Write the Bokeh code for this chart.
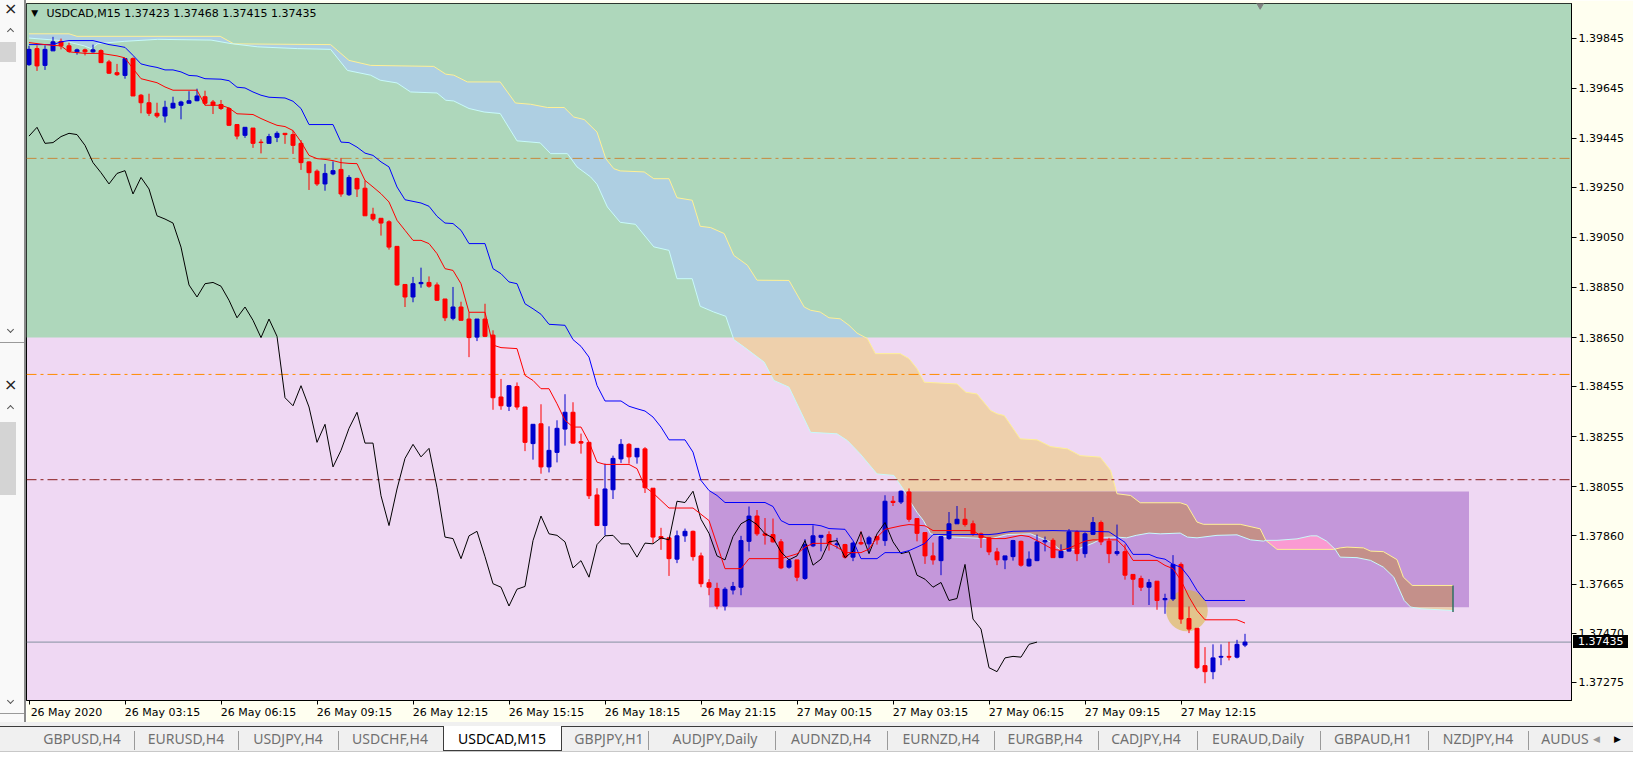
from bokeh.plotting import figure
from bokeh.models import Range1d, FixedTicker, PrintfTickFormatter, Label, Div, ColumnDataSource, LinearAxis
from bokeh.layouts import row, column
from bokeh.embed import file_html
from bokeh.resources import INLINE

# ---------------- data ----------------
symbol = "USDCAD,M15"
bars = list(range(-12, 141))  # bar index, 0 = 26 May 03:15

opens = [1.39739, 1.39803, 1.39736, 1.39794, 1.39832, 1.39814, 1.39790, 1.39798, 1.39790, 1.39795,
         1.39750, 1.39707, 1.39696, 1.39763, 1.39617, 1.39587, 1.39545, 1.39534, 1.39566, 1.39577,
         1.39585, 1.39595, 1.39611, 1.39590, 1.39580, 1.39564, 1.39500, 1.39457, 1.39486, 1.39430,
         1.39425, 1.39449, 1.39465, 1.39460, 1.39425, 1.39351, 1.39314, 1.39263, 1.39303, 1.39321,
         1.39220, 1.39285, 1.39246, 1.39142, 1.39126, 1.39112, 1.39014, 1.38862, 1.38812, 1.38865,
         1.38870, 1.38860, 1.38804, 1.38727, 1.38772, 1.38724, 1.38652, 1.38724, 1.38660, 1.38413,
         1.38376, 1.38455, 1.38373, 1.38227, 1.38306, 1.38134, 1.38192, 1.38285, 1.38352, 1.38235,
         1.38232, 1.38022, 1.37900, 1.38043, 1.38166, 1.38224, 1.38174, 1.38206, 1.38049, 1.37856,
         1.37851, 1.37766, 1.37859, 1.37877, 1.37779, 1.37672, 1.37649, 1.37579, 1.37643, 1.37654,
         1.37837, 1.37938, 1.37867, 1.37864, 1.37835, 1.37734, 1.37763, 1.37689, 1.37819, 1.37853,
         1.37864, 1.37824, 1.37824, 1.37774, 1.37832, 1.37827, 1.37856, 1.37840, 1.37997, 1.37994,
         1.38034, 1.37928, 1.37872, 1.37779, 1.37760, 1.37848, 1.37907, 1.37925, 1.37907, 1.37867,
         1.37851, 1.37795, 1.37763, 1.37776, 1.37837, 1.37739, 1.37760, 1.37835, 1.37841, 1.37772,
         1.37798, 1.37875, 1.37788, 1.37865, 1.37912, 1.37838, 1.37788, 1.37796, 1.37705, 1.37689,
         1.37654, 1.37678, 1.37604, 1.37607, 1.37745, 1.37529, 1.37490, 1.37341, 1.37317, 1.37375,
         1.37378, 1.37375, 1.37423]
highs = [1.39814, 1.39816, 1.39816, 1.39850, 1.39843, 1.39827, 1.39803, 1.39803, 1.39819, 1.39800,
         1.39758, 1.39742, 1.39763, 1.39768, 1.39622, 1.39623, 1.39587, 1.39595, 1.39611, 1.39595,
         1.39633, 1.39643, 1.39635, 1.39598, 1.39598, 1.39569, 1.39502, 1.39489, 1.39486, 1.39441,
         1.39463, 1.39473, 1.39465, 1.39476, 1.39438, 1.39353, 1.39321, 1.39343, 1.39353, 1.39367,
         1.39298, 1.39288, 1.39277, 1.39168, 1.39126, 1.39118, 1.39014, 1.38862, 1.38892, 1.38929,
         1.38894, 1.38870, 1.38804, 1.38852, 1.38793, 1.38751, 1.38724, 1.38785, 1.38679, 1.38485,
         1.38461, 1.38471, 1.38373, 1.38304, 1.38384, 1.38296, 1.38320, 1.38424, 1.38392, 1.38267,
         1.38232, 1.38049, 1.38147, 1.38179, 1.38245, 1.38229, 1.38208, 1.38213, 1.38049, 1.37891,
         1.37851, 1.37880, 1.37888, 1.37880, 1.37792, 1.37686, 1.37672, 1.37654, 1.37675, 1.37859,
         1.37976, 1.37962, 1.37930, 1.37928, 1.37846, 1.37768, 1.37763, 1.37846, 1.37901, 1.37861,
         1.37877, 1.37851, 1.37827, 1.37835, 1.37877, 1.37859, 1.37856, 1.38021, 1.38018, 1.38040,
         1.38048, 1.37928, 1.37872, 1.37832, 1.37859, 1.37954, 1.37978, 1.37970, 1.37920, 1.37872,
         1.37853, 1.37811, 1.37779, 1.37843, 1.37840, 1.37797, 1.37864, 1.37856, 1.37849, 1.37825,
         1.37886, 1.37881, 1.37873, 1.37934, 1.37920, 1.37851, 1.37904, 1.37825, 1.37705, 1.37700,
         1.37686, 1.37678, 1.37628, 1.37782, 1.37753, 1.37577, 1.37490, 1.37415, 1.37426, 1.37426,
         1.37436, 1.37444, 1.37468]
lows = [1.39734, 1.39714, 1.39718, 1.39794, 1.39800, 1.39787, 1.39779, 1.39776, 1.39787, 1.39747,
        1.39702, 1.39694, 1.39683, 1.39614, 1.39545, 1.39534, 1.39526, 1.39508, 1.39564, 1.39521,
        1.39585, 1.39593, 1.39577, 1.39542, 1.39558, 1.39494, 1.39441, 1.39447, 1.39407, 1.39385,
        1.39425, 1.39430, 1.39423, 1.39383, 1.39319, 1.39239, 1.39255, 1.39236, 1.39298, 1.39212,
        1.39215, 1.39211, 1.39136, 1.39115, 1.39057, 1.39001, 1.38857, 1.38772, 1.38791, 1.38849,
        1.38849, 1.38796, 1.38716, 1.38719, 1.38719, 1.38572, 1.38636, 1.38652, 1.38362, 1.38362,
        1.38357, 1.38362, 1.38197, 1.38163, 1.38107, 1.38112, 1.38152, 1.38219, 1.38227, 1.38187,
        1.38006, 1.37900, 1.37860, 1.38006, 1.38150, 1.38147, 1.38147, 1.38030, 1.37830, 1.37803,
        1.37699, 1.37750, 1.37835, 1.37760, 1.37654, 1.37622, 1.37566, 1.37561, 1.37625, 1.37622,
        1.37797, 1.37859, 1.37824, 1.37832, 1.37726, 1.37728, 1.37678, 1.37683, 1.37814, 1.37797,
        1.37800, 1.37808, 1.37768, 1.37758, 1.37822, 1.37790, 1.37824, 1.37819, 1.37978, 1.37986,
        1.37915, 1.37837, 1.37747, 1.37744, 1.37702, 1.37843, 1.37907, 1.37896, 1.37859, 1.37811,
        1.37782, 1.37742, 1.37726, 1.37760, 1.37736, 1.37736, 1.37758, 1.37797, 1.37772, 1.37772,
        1.37796, 1.37758, 1.37772, 1.37862, 1.37822, 1.37750, 1.37780, 1.37684, 1.37583, 1.37639,
        1.37583, 1.37564, 1.37548, 1.37599, 1.37508, 1.37471, 1.37327, 1.37271, 1.37287, 1.37343,
        1.37362, 1.37370, 1.37415]
closes = [1.39800, 1.39734, 1.39800, 1.39830, 1.39814, 1.39792, 1.39798, 1.39790, 1.39798, 1.39747,
          1.39705, 1.39699, 1.39763, 1.39614, 1.39587, 1.39545, 1.39534, 1.39569, 1.39585, 1.39590,
          1.39595, 1.39614, 1.39585, 1.39577, 1.39564, 1.39497, 1.39454, 1.39489, 1.39425, 1.39428,
          1.39452, 1.39465, 1.39460, 1.39417, 1.39348, 1.39308, 1.39263, 1.39305, 1.39316, 1.39223,
          1.39289, 1.39243, 1.39136, 1.39123, 1.39107, 1.39011, 1.38860, 1.38812, 1.38865, 1.38870,
          1.38855, 1.38799, 1.38729, 1.38772, 1.38719, 1.38650, 1.38724, 1.38655, 1.38410, 1.38378,
          1.38458, 1.38373, 1.38232, 1.38304, 1.38134, 1.38200, 1.38288, 1.38352, 1.38229, 1.38229,
          1.38019, 1.37900, 1.38046, 1.38168, 1.38224, 1.38174, 1.38208, 1.38051, 1.37854, 1.37848,
          1.37768, 1.37859, 1.37877, 1.37776, 1.37668, 1.37654, 1.37579, 1.37646, 1.37657, 1.37840,
          1.37938, 1.37867, 1.37861, 1.37835, 1.37731, 1.37760, 1.37694, 1.37824, 1.37859, 1.37861,
          1.37827, 1.37827, 1.37774, 1.37830, 1.37827, 1.37851, 1.37843, 1.37997, 1.37992, 1.38037,
          1.37925, 1.37869, 1.37779, 1.37763, 1.37856, 1.37907, 1.37925, 1.37904, 1.37867, 1.37851,
          1.37795, 1.37763, 1.37779, 1.37840, 1.37742, 1.37766, 1.37835, 1.37840, 1.37772, 1.37798,
          1.37875, 1.37788, 1.37867, 1.37912, 1.37835, 1.37788, 1.37796, 1.37702, 1.37686, 1.37654,
          1.37673, 1.37601, 1.37609, 1.37745, 1.37527, 1.37487, 1.37333, 1.37317, 1.37372, 1.37378,
          1.37375, 1.37426, 1.37435]

# Ichimoku lines (bar index, price)
tenkan_x = [-12, -10, -9, -8, -7, -6, -5, -3, -2, -1, 0, 1, 2, 3, 4, 5, 6, 9, 10, 12,
            13, 14, 16, 17, 18, 19, 20, 21, 22, 23, 24, 25, 26, 27, 28, 29, 30, 31, 32, 33,
            34, 35, 36, 37, 38, 39, 40, 41, 42, 43, 45, 46, 47, 49, 50, 51, 52, 53, 54, 55,
            56, 57, 58, 59, 60, 63, 64, 65,
            66, 68, 71, 73, 75, 77, 78, 82, 84, 85, 86, 88, 89, 90, 92, 93, 94, 95, 97, 98,
            100, 101, 106, 107, 108, 110, 112, 113, 114, 116, 117, 118, 120, 121, 124, 125, 126, 129, 130, 131,
            132, 133, 134, 135, 139, 140]
tenkan_y = [1.39827, 1.39819, 1.39816, 1.39814, 1.39790, 1.39787, 1.39784, 1.39784, 1.39779, 1.39774,
            1.39766, 1.39723, 1.39683, 1.39675, 1.39667, 1.39650, 1.39637, 1.39637, 1.39577, 1.39577,
            1.39566, 1.39543, 1.39540, 1.39524, 1.39510, 1.39497, 1.39492, 1.39476, 1.39431, 1.39377,
            1.39364, 1.39361, 1.39356, 1.39348, 1.39345, 1.39344, 1.39277, 1.39251, 1.39224, 1.39191,
            1.39118, 1.39078, 1.39038, 1.39038, 1.39025, 1.38985, 1.38925, 1.38918, 1.38865, 1.38751,
            1.38751, 1.38620, 1.38610, 1.38606, 1.38499, 1.38479, 1.38446, 1.38446, 1.38386, 1.38320,
            1.38293, 1.38293, 1.38233, 1.38153, 1.38144, 1.38144, 1.38127, 1.38054,
            1.38030, 1.37970, 1.37970, 1.37920, 1.37728, 1.37728, 1.37768, 1.37768, 1.37787, 1.37814,
            1.37829, 1.37829, 1.37814, 1.37792, 1.37792, 1.37806, 1.37853, 1.37885, 1.37899, 1.37904,
            1.37899, 1.37880, 1.37880, 1.37859, 1.37848, 1.37848, 1.37861, 1.37856, 1.37840, 1.37805,
            1.37801, 1.37810, 1.37838, 1.37843, 1.37843, 1.37811, 1.37761, 1.37761, 1.37741, 1.37728,
            1.37681, 1.37615, 1.37561, 1.37524, 1.37524, 1.37511]

kijun_x = [-12, -9, -8, -7, -4, -3, -2, -1, 0, 1, 2, 3, 4, 5, 6, 7, 8, 9, 10, 12,
           13, 14, 15, 16, 17, 18, 20, 21, 22, 23, 26, 27, 28, 29, 30, 31, 32, 33, 34, 35,
           37, 38, 39, 40, 41, 42, 43, 45, 46, 47, 48, 49, 50, 51, 52, 53, 55, 56, 57, 58,
           59, 60, 62, 63, 64, 65, 66, 67, 68, 70, 71, 72, 73, 74, 75, 80, 81, 82, 83, 86,
           87, 88, 90, 91, 92, 94, 95, 97, 98, 99, 100, 101, 108, 109, 110, 111, 116, 123, 124, 125,
           126, 128, 129, 130, 131, 132, 133, 134, 135, 140]
kijun_y = [1.39819, 1.39819, 1.39830, 1.39835, 1.39835, 1.39827, 1.39819, 1.39814, 1.39808, 1.39776,
           1.39742, 1.39734, 1.39728, 1.39718, 1.39718, 1.39710, 1.39696, 1.39694, 1.39683, 1.39681,
           1.39675, 1.39649, 1.39646, 1.39630, 1.39617, 1.39609, 1.39606, 1.39593, 1.39564, 1.39500,
           1.39500, 1.39430, 1.39428, 1.39410, 1.39386, 1.39377, 1.39351, 1.39331, 1.39251, 1.39200,
           1.39187, 1.39174, 1.39134, 1.39107, 1.39105, 1.39078, 1.39025, 1.39025, 1.38925, 1.38905,
           1.38872, 1.38865, 1.38785, 1.38765, 1.38743, 1.38703, 1.38699, 1.38642, 1.38615, 1.38572,
           1.38459, 1.38397, 1.38397, 1.38376, 1.38366, 1.38357, 1.38333, 1.38293, 1.38242, 1.38242,
           1.38193, 1.38080, 1.38040, 1.38020, 1.37992, 1.37992, 1.37976, 1.37920, 1.37904, 1.37904,
           1.37899, 1.37888, 1.37885, 1.37840, 1.37768, 1.37768, 1.37792, 1.37792, 1.37800, 1.37814,
           1.37829, 1.37864, 1.37864, 1.37867, 1.37873, 1.37877, 1.37880, 1.37875, 1.37854, 1.37833,
           1.37785, 1.37785, 1.37772, 1.37766, 1.37745, 1.37734, 1.37694, 1.37641, 1.37601, 1.37601]

span_a_x = [-12, -7, -6, 11.9, 13.6, 25.7, 28.0, 30.7, 38.6, 40.1,
            41.1, 42.8, 46.9, 48.8, 50.7, 52.8, 54.9, 56.1, 57.4, 59.0,
            60.1, 61.1, 61.9, 64.9, 66.1, 68.0, 69.0, 70.9, 71.9, 73.2,
            74.9, 76.1, 77.8, 79.0, 83.0, 84.9, 85.7, 86.9, 88.0, 89.4,
            90.5, 91.5, 92.8, 93.8, 96.9, 98.0, 99.0, 99.9, 104.0, 105.1,
            106.5, 108.2, 109.0, 109.9, 111.9, 114.0, 115.7, 117.8, 119.4, 121.9,
            123.2, 124.0, 125.7, 126.9, 131.9, 132.75, 134.0, 134.8, 139.4, 141.9,
            142.6, 144.0, 151.1, 151.25, 151.9, 152.75, 154.8, 155.7, 157.3, 159.0,
            159.8, 160.9, 166.0]
span_a_y = [1.39862, 1.39862, 1.39852, 1.39852, 1.39822, 1.39819, 1.39756, 1.39736, 1.39732, 1.39701,
            1.39697, 1.39670, 1.39670, 1.39586, 1.39581, 1.39568, 1.39568, 1.39530, 1.39520, 1.39470,
            1.39364, 1.39324, 1.39315, 1.39311, 1.39284, 1.39284, 1.39208, 1.39198, 1.39094, 1.39089,
            1.39065, 1.38978, 1.38939, 1.38879, 1.38878, 1.38772, 1.38759, 1.38752, 1.38729, 1.38725,
            1.38699, 1.38668, 1.38646, 1.38586, 1.38586, 1.38566, 1.38526, 1.38472, 1.38465, 1.38432,
            1.38425, 1.38359, 1.38346, 1.38339, 1.38246, 1.38242, 1.38215, 1.38206, 1.38179, 1.38173,
            1.38120, 1.38027, 1.38020, 1.37991, 1.37991, 1.37982, 1.37914, 1.37905, 1.37905, 1.37887,
            1.37841, 1.37805, 1.37805, 1.37806, 1.37811, 1.37814, 1.37811, 1.37798, 1.37796, 1.37764,
            1.37694, 1.37661, 1.37661]

span_b_x = [-12, -8.4, -7.2, -5.1, -4.25, -3.4, -0.1, 4.1, 10.75, 13.25,
            16.6, 21.6, 25.7, 27.8, 30.7, 31.9, 34.0, 35.7, 39.0, 40.1,
            41.1, 43.0, 44.9, 46.9, 49.0, 51.9, 53.2, 55.3, 56.5, 58.2,
            59.0, 60.3, 61.9, 63.8, 66.1, 68.0, 69.0, 70.9, 71.9, 73.6,
            75.1, 76.1, 77.4, 79.9, 81.1, 83.0, 85.7, 89.0, 90.3, 91.9,
            94.0, 96.1, 97.4, 98.2, 99.0, 99.8, 100.7, 102.4, 108.2, 110.3,
            113.2, 115.7, 117.0, 119.0, 121.0, 122.4, 124.0, 125.2, 126.4, 128.0,
            129.4, 131.9, 132.8, 134.0, 136.5, 139.0, 140.7, 142.3, 142.6, 144.0,
            146.5, 148.2, 149.0, 150.2, 151.25, 151.9, 154.0, 155.7, 157.3, 158.6,
            159.9, 160.7, 162.0, 166.0]
span_b_y = [1.39845, 1.39836, 1.39830, 1.39814, 1.39803, 1.39823, 1.39832, 1.39840, 1.39837, 1.39823,
            1.39810, 1.39803, 1.39800, 1.39716, 1.39697, 1.39677, 1.39666, 1.39630, 1.39626, 1.39597,
            1.39594, 1.39564, 1.39550, 1.39544, 1.39435, 1.39427, 1.39384, 1.39384, 1.39331, 1.39291,
            1.39262, 1.39171, 1.39110, 1.39102, 1.39012, 1.38998, 1.38885, 1.38885, 1.38775, 1.38752,
            1.38735, 1.38642, 1.38612, 1.38552, 1.38479, 1.38452, 1.38272, 1.38266, 1.38239, 1.38186,
            1.38106, 1.38100, 1.38040, 1.37993, 1.37953, 1.37920, 1.37867, 1.37856, 1.37847, 1.37864,
            1.37867, 1.37835, 1.37800, 1.37805, 1.37830, 1.37853, 1.37854, 1.37851, 1.37861, 1.37870,
            1.37867, 1.37870, 1.37854, 1.37851, 1.37861, 1.37863, 1.37843, 1.37838, 1.37841, 1.37841,
            1.37847, 1.37859, 1.37859, 1.37838, 1.37806, 1.37774, 1.37772, 1.37761, 1.37734, 1.37694,
            1.37601, 1.37575, 1.37568, 1.37561]
twist_start, twist_end = 142.6, 151.25   # span B above span A in this stretch
chikou_shift = 26

time_tick_bars = [-12, 0, 12, 24, 36, 48, 60, 72, 84, 96, 108, 120, 132]
time_tick_labels = ["26 May 2020", "26 May 03:15", "26 May 06:15", "26 May 09:15", "26 May 12:15",
                    "26 May 15:15", "26 May 18:15", "26 May 21:15", "27 May 00:15", "27 May 03:15",
                    "27 May 06:15", "27 May 09:15", "27 May 12:15"]
price_ticks = [1.39845, 1.39645, 1.39445, 1.39250, 1.39050, 1.38850, 1.38650,
               1.38455, 1.38255, 1.38055, 1.37860, 1.37665, 1.37470, 1.37275]

zone_split = 1.38650                     # green zone above, lavender below
rect_left, rect_right = 73.0, 168.0      # drawn rectangle (bars)
rect_bottom, rect_top = 1.37574, 1.38036
level_prices = [1.39365, 1.38503, 1.38083]
circle_x, circle_y = 132.75, 1.37561
circle_w, circle_h = 5.2, 0.00165
cloud_end_bar = 166
cloud_end_low, cloud_end_high = 1.37555, 1.37661
shift_marker_bar = 141.9

tab_names = ["GBPUSD,H4", "EURUSD,H4", "USDJPY,H4", "USDCHF,H4", "USDCAD,M15", "GBPJPY,H1",
             "AUDJPY,Daily", "AUDNZD,H4", "EURNZD,H4", "EURGBP,H4", "CADJPY,H4", "EURAUD,Daily",
             "GBPAUD,H1", "NZDJPY,H4", "AUDUS"]
active_tab = "USDCAD,M15"

# ---------------- view / style ----------------
X0, X1 = -12.3125, 180.8125
Y0, Y1 = 1.37202, 1.39983
BAR_PX = 8.0
LABEL_HALF_PX = 37.5
GREEN = "#AED7BB"
LAVENDER = "#EFD8F3"
RECT_COL = "#C497DA"
CLOUD_BLUE = "#AECFE2"
CLOUD_WHEAT = "#EED0AC"
CLOUD_BROWN = "#C4908A"
CLOUD_PINK = "#FA9AD2"
SPAN_A_COL = "#FFF096"
SPAN_B_COL = "#C8FAFA"
LEVEL_COLS = ["#C68A3E", "#FF8C00", "#8B1C1C"]
BULL = "#0000CD"
BEAR = "#FF0000"
FONT = "DejaVu Sans"
FIG_W, FIG_H = 1607, 722
TAB_H = 42

p = figure(width=FIG_W, height=FIG_H, output_backend="svg", toolbar_location=None,
           x_range=Range1d(X0, X1), y_range=Range1d(Y0, Y1),
           y_axis_location="right", title=None,
           min_border_left=0, min_border_top=3, min_border_right=62, min_border_bottom=22)
p.background_fill_color = LAVENDER
p.border_fill_color = "#FFFFF0"
p.outline_line_color = "black"
p.outline_line_width = 1
p.xgrid.visible = False
p.ygrid.visible = False

# zones
p.quad(left=[X0], right=[X1], bottom=[zone_split], top=[Y1], fill_color=GREEN, line_color=None)
p.quad(left=[rect_left], right=[rect_right], bottom=[rect_bottom], top=[rect_top],
       fill_color=RECT_COL, line_color=None)

# cloud polygons clipped into colour bands
def clip_band(pts, lo, hi):
    def clip(poly, inside, yv):
        out = []
        n = len(poly)
        for k in range(n):
            cur, prev = poly[k], poly[k - 1]
            if inside(cur):
                if not inside(prev):
                    t = (yv - prev[1]) / (cur[1] - prev[1])
                    out.append((prev[0] + t * (cur[0] - prev[0]), yv))
                out.append(cur)
            elif inside(prev):
                t = (yv - prev[1]) / (cur[1] - prev[1])
                out.append((prev[0] + t * (cur[0] - prev[0]), yv))
        return out
    poly = clip(pts, lambda q: q[1] >= lo, lo)
    if poly:
        poly = clip(poly, lambda q: q[1] <= hi, hi)
    return poly

cloud = list(zip(span_a_x, span_a_y)) + list(zip(span_b_x[::-1], span_b_y[::-1]))
bands = [(zone_split, 10.0, CLOUD_BLUE), (rect_top, zone_split, CLOUD_WHEAT),
         (rect_bottom, rect_top, CLOUD_BROWN), (0.0, rect_bottom, CLOUD_WHEAT)]
for lo, hi, col in bands:
    poly = clip_band(cloud, lo, hi)
    if len(poly) > 2:
        p.patch([q[0] for q in poly], [q[1] for q in poly], fill_color=col, line_color=None)

twist = [(x, y) for x, y in zip(span_b_x, span_b_y) if twist_start <= x <= twist_end] + \
        [(x, y) for x, y in zip(span_a_x, span_a_y) if twist_start <= x <= twist_end][::-1]
p.patch([q[0] for q in twist], [q[1] for q in twist], fill_color=CLOUD_PINK, line_color=None)

p.line(span_a_x, span_a_y, line_color=SPAN_A_COL, line_width=1)
p.line(span_b_x, span_b_y, line_color=SPAN_B_COL, line_width=1)
p.segment(x0=[cloud_end_bar], y0=[cloud_end_low], x1=[cloud_end_bar], y1=[cloud_end_high],
          line_color="#2F7060", line_width=1.5)

# highlight circle
p.ellipse(x=[circle_x], y=[circle_y], width=circle_w, height=circle_h,
          fill_color="#D8B437", fill_alpha=0.55, line_color=None)

# horizontal levels
for lv, col in zip(level_prices, LEVEL_COLS):
    p.segment(x0=[X0], y0=[lv], x1=[X1], y1=[lv], line_color=col, line_width=1,
              line_dash="10 4 3 4")
p.segment(x0=[X0], y0=[closes[-1]], x1=[X1], y1=[closes[-1]], line_color="#8490A0", line_width=1)

# candles
colors = [BULL if c >= o else BEAR for o, c in zip(opens, closes)]
src = ColumnDataSource(dict(x=bars, open=opens, high=highs, low=lows, close=closes,
                            top=[max(o, c) for o, c in zip(opens, closes)],
                            bottom=[min(o, c) for o, c in zip(opens, closes)],
                            color=colors))
p.segment(x0="x", y0="high", x1="x", y1="low", line_color="color", line_width=1, source=src)
p.vbar(x="x", width=0.5, top="top", bottom="bottom", fill_color="color", line_color="color",
       line_width=1, source=src)

# Ichimoku lines
chikou_x = [b - chikou_shift for b in bars[chikou_shift:]]
chikou_y = closes[chikou_shift:]
p.line(chikou_x, chikou_y, line_color="black", line_width=1)
p.line(kijun_x, kijun_y, line_color="#0000FF", line_width=1)
p.line(tenkan_x, tenkan_y, line_color="#FF0000", line_width=1)

# shift marker
p.scatter(x=[shift_marker_bar], y=[Y1], marker="inverted_triangle", size=10,
          fill_color="#808080", line_color="#808080")

# title
p.add_layout(Label(x=X0 + 0.6, y=1.39945, text="\u25BC", text_font=FONT, text_font_size="9px",
                   text_baseline="middle", text_color="black"))
title_txt = f"{symbol}  {opens[-1]:.5f} {highs[-1]:.5f} {lows[-1]:.5f} {closes[-1]:.5f}"
p.add_layout(Label(x=X0 + 2.5, y=1.39945, text=title_txt, text_font=FONT, text_font_size="11px",
                   text_baseline="middle", text_color="black"))

# price axis
p.yaxis.ticker = FixedTicker(ticks=price_ticks)
p.yaxis.formatter = PrintfTickFormatter(format="%.5f")
p.yaxis.major_tick_in = 0
p.yaxis.major_tick_out = 5
p.yaxis.minor_tick_line_color = None
p.yaxis.major_label_standoff = 2
p.yaxis.major_label_text_font = FONT
p.yaxis.major_label_text_font_size = "11px"
p.yaxis.major_label_text_color = "black"
p.yaxis.axis_line_color = "black"

# time axis: tick marks at the bars, labels starting at the tick (MT4 style)
p.xaxis.ticker = FixedTicker(ticks=time_tick_bars)
p.xaxis.major_label_overrides = {b: "" for b in time_tick_bars}
p.xaxis.major_label_text_font_size = "1px"
p.xaxis.major_label_standoff = 0
p.xaxis.major_tick_in = 0
p.xaxis.major_tick_out = 4
p.xaxis.minor_tick_line_color = None
p.xaxis.axis_line_color = "black"

label_pos = [b + LABEL_HALF_PX / BAR_PX for b in time_tick_bars]
xlab = LinearAxis(ticker=FixedTicker(ticks=label_pos),
                  major_label_overrides={pos: t for pos, t in zip(label_pos, time_tick_labels)},
                  major_tick_in=0, major_tick_out=0, minor_tick_line_color=None,
                  axis_line_color=None, major_label_standoff=1,
                  major_label_text_font=FONT, major_label_text_font_size="11px",
                  major_label_text_color="black")
p.add_layout(xlab, "below")

# pixel row of the current price on the price scale (same linear mapping as the frame)
frame_top_px, frame_bottom_px = 3, 700
cur_px = frame_top_px + (Y1 - closes[-1]) / (Y1 - Y0) * (frame_bottom_px - frame_top_px)

# ---------------- window chrome (left strip, tab bar) ----------------
def chev(top, up=True):
    rot = 45 if up else 225
    return (f'<div style="position:absolute;left:8px;top:{top}px;width:5px;height:5px;'
            f'border-left:1.5px solid #555;border-top:1.5px solid #555;transform:rotate({rot}deg)"></div>')

side_html = ('<div style="position:relative;width:26px;height:722px;background:#F9F9F9;'
             'border-right:2px solid #8a8a8a;box-sizing:border-box;overflow:hidden;font-family:\'DejaVu Sans\'">'
             '<div style="position:absolute;left:4px;top:0px;font-size:16px;line-height:18px;color:#222">\u00D7</div>'
             + chev(29) +
             '<div style="position:absolute;left:0;top:42px;width:16px;height:20px;background:#D4D4D4"></div>'
             + chev(327, False) +
             '<div style="position:absolute;left:0;top:342px;width:26px;height:1px;background:#9a9a9a"></div>'
             '<div style="position:absolute;left:4px;top:376px;font-size:16px;line-height:18px;color:#222">\u00D7</div>'
             + chev(406) +
             '<div style="position:absolute;left:0;top:422px;width:16px;height:73px;background:#D4D4D4"></div>'
             + chev(698, False) +
             '<div style="position:absolute;left:0;top:713px;width:26px;height:1px;background:#9a9a9a"></div>'
             '</div>')
sidebar = Div(text=side_html, width=26, height=FIG_H, margin=(0, 0, 0, 0))

tab_centers = [82, 186, 288, 390, 502, 609, 715, 831, 941, 1045, 1146, 1258, 1373, 1478, 1565]
separators = [134, 238, 338, 648, 775, 887, 994, 1098, 1197, 1320, 1428, 1528]
box_top = round(cur_px - FIG_H - 6.5)
parts = ['<div style="position:relative;width:1633px;height:42px;">',
         '<div style="position:absolute;left:0;top:0;width:1633px;height:42px;background:#F0F0F0;overflow:hidden;'
         'font-family:\'Noto Sans\';font-size:14px;">',
         '<div style="position:absolute;left:0;top:4px;width:1633px;height:1px;background:#3c3c3c"></div>',
         '<div style="position:absolute;left:0;top:29px;width:1633px;height:13px;background:#FFFFFF;'
         'border-top:1px solid #C8C8C8"></div>']
for s in separators:
    parts.append(f'<div style="position:absolute;left:{s}px;top:9px;width:1px;height:19px;background:#9a9a9a"></div>')
parts.append('<div style="position:absolute;left:443px;top:4px;width:119px;height:25px;background:#FFFFFF;'
             'border-left:1px solid #3c3c3c;border-right:1px solid #3c3c3c;border-bottom:1px solid #3c3c3c;'
             'box-sizing:border-box"></div>')
for name, cx in zip(tab_names, tab_centers):
    col = "#000000" if name == active_tab else "#707070"
    w = 50 if name == tab_names[-1] else 116
    parts.append(f'<div style="position:absolute;left:{cx - w // 2}px;top:6px;width:{w}px;height:22px;'
                 f'line-height:22px;text-align:center;color:{col};white-space:nowrap">{name}</div>')
parts.append('<div style="position:absolute;left:1593px;top:6px;height:22px;line-height:22px;'
             'font-size:9px;color:#9a9a9a">\u25C0</div>')
parts.append('<div style="position:absolute;left:1614px;top:6px;height:22px;line-height:22px;'
             'font-size:9px;color:#000">\u25B6</div>')
parts.append('</div>')
# current-price box sitting on the price scale (overflows upward onto the axis strip)
parts.append(f'<div style="position:absolute;left:1573px;top:{box_top}px;width:55px;height:13px;'
             f'background:#000000;color:#FFFFFF;font-family:\'DejaVu Sans\';font-size:11px;'
             f'line-height:13px;padding-left:5px;box-sizing:border-box;z-index:10">{closes[-1]:.5f}</div>')
parts.append('</div>')
tabs = Div(text="".join(parts), width=1633, height=TAB_H, margin=(0, 0, 0, 0),
           styles={"overflow": "visible", "z-index": "10"})

layout = column(row(sidebar, p, spacing=0), tabs, spacing=0)
open("out.html", "w").write(file_html(layout, INLINE, title="USDCAD,M15"))
